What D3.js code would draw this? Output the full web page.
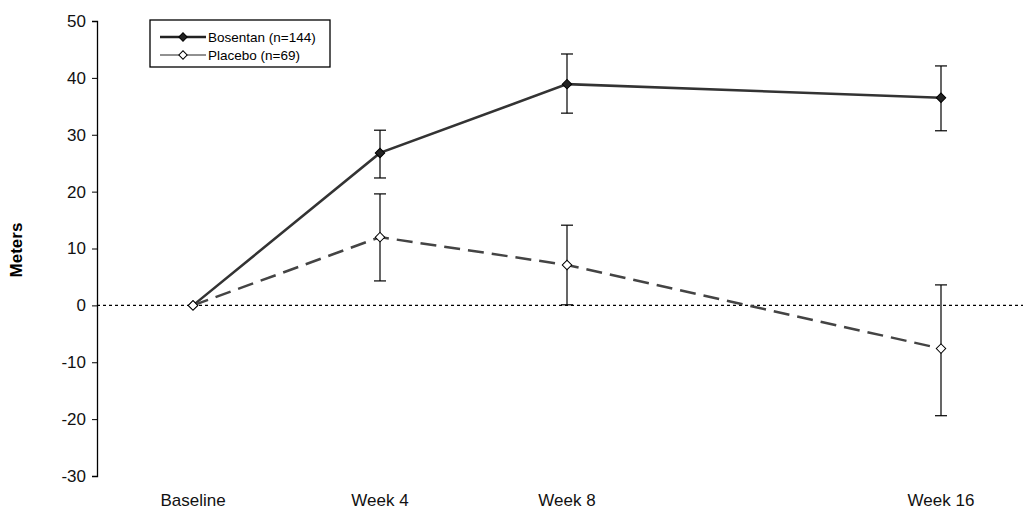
<!DOCTYPE html><html><head><meta charset="utf-8"><script src="https://cdn.jsdelivr.net/npm/d3@7"></script>
<style>body{margin:0;background:#fff}</style></head><body><svg id="c" width="1023" height="523"></svg>
<script>
const categories=["Baseline","Week 4","Week 8","Week 16"];
const weeks=[0,4,8,16];
const bosentan=[0,26.8,38.9,36.5];
const bosLo=[0,22.4,33.8,30.7];
const bosHi=[0,30.8,44.2,42.1];
const placebo=[0,12.0,7.1,-7.6];
const plaLo=[0,4.3,0.1,-19.4];
const plaHi=[0,19.6,14.1,3.6];
const yTicks=[50,40,30,20,10,0,-10,-20,-30];
const svg=d3.select("#c");
const x=d3.scaleLinear().domain([0,16]).range([193,941]);
const y=d3.scaleLinear().domain([-30,50]).range([476,21]);
const F="Arial, Liberation Sans, sans-serif";
const ya=svg.append("g").attr("transform","translate(97,0)").call(d3.axisLeft(y).tickValues(yTicks).tickFormat(d=>String(d)).tickSize(5).tickPadding(6));
ya.select(".domain").attr("stroke","#000").attr("stroke-width",1.3);
ya.selectAll("text").attr("font-family",F).attr("font-size",17).attr("fill","#111");
svg.append("line").attr("x1",97).attr("x2",1023).attr("y1",y(0)).attr("y2",y(0)).attr("stroke","#000").attr("stroke-width",1.3).attr("stroke-dasharray","3,3");
svg.selectAll(".xl").data(categories).enter().append("text").attr("x",(d,i)=>x(weeks[i])).attr("y",506).attr("text-anchor","middle").attr("font-family",F).attr("font-size",17).attr("fill","#111").text(d=>d);
svg.append("text").attr("transform","translate(22,250) rotate(-90)").attr("text-anchor","middle").attr("font-family",F).attr("font-size",17).attr("font-weight","bold").text("Meters");
const sym=d3.symbol(d3.symbolSquare,45)();
function series(vals,lo,hi,dash,fill,w){
  const line=d3.line().x((d,i)=>x(weeks[i])).y(d=>y(d));
  svg.append("path").attr("d",line(vals)).attr("fill","none").attr("stroke",dash?"#444":"#333").attr("stroke-width",w).attr("stroke-dasharray",dash?"16,8":null);
  weeks.forEach((wk,i)=>{ if(i===0)return;
    const cx=x(wk);
    svg.append("line").attr("x1",cx).attr("x2",cx).attr("y1",y(lo[i])).attr("y2",y(hi[i])).attr("stroke","#000").attr("stroke-width",1.2);
    [lo[i],hi[i]].forEach(v=>svg.append("line").attr("x1",cx-6).attr("x2",cx+6).attr("y1",y(v)).attr("y2",y(v)).attr("stroke","#000").attr("stroke-width",1.2));
  });
  vals.forEach((v,i)=>svg.append("path").attr("d",sym).attr("transform",`translate(${x(weeks[i])},${y(v)}) rotate(45)`).attr("fill",fill).attr("stroke","#000"));
}
series(bosentan,bosLo,bosHi,false,"#222",2.5);
series(placebo,plaLo,plaHi,true,"#fff",2.5);
svg.append("rect").attr("x",150).attr("y",20).attr("width",180).attr("height",47).attr("fill","#fff").attr("stroke","#000").attr("stroke-width",1.3);
[["Bosentan (n=144)","#222",2.5,37],["Placebo (n=69)","#fff",1,55]].forEach(([t,f,w,yy])=>{
  svg.append("line").attr("x1",160).attr("x2",206).attr("y1",yy).attr("y2",yy).attr("stroke","#222").attr("stroke-width",w);
  svg.append("path").attr("d",d3.symbol(d3.symbolSquare,35)()).attr("transform",`translate(183,${yy}) rotate(45)`).attr("fill",f).attr("stroke","#000");
  svg.append("text").attr("x",208).attr("y",yy+5).attr("font-family",F).attr("font-size",13.5).text(t);
});
</script></body></html>
